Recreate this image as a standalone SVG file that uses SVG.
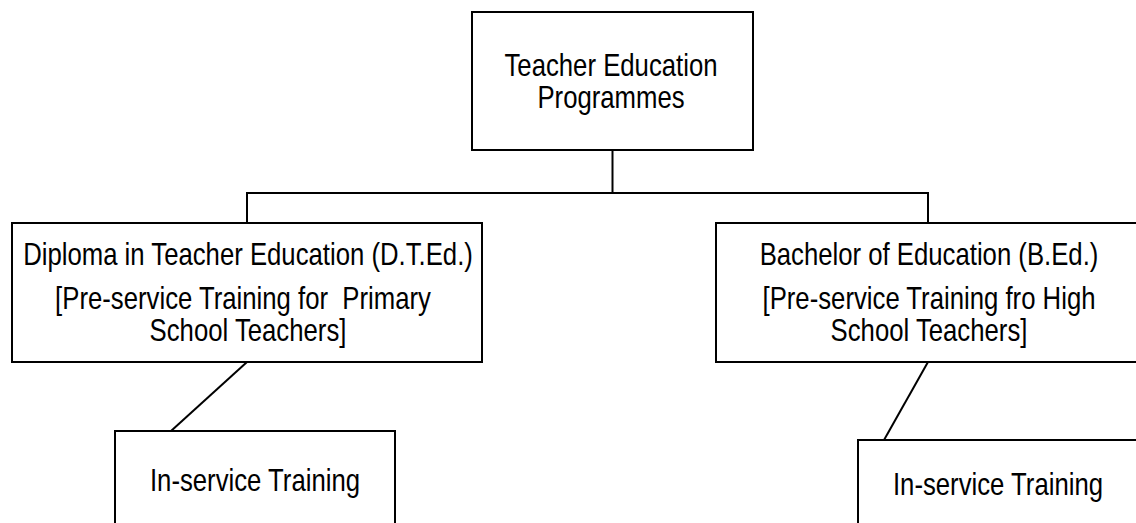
<svg xmlns="http://www.w3.org/2000/svg" width="1136" height="523" viewBox="0 0 1136 523">
  <style>
    .box { fill: #ffffff; stroke: #000000; stroke-width: 2; }
    .link { fill: none; stroke: #000000; stroke-width: 2; }
    .lbl { font-family: "Liberation Sans", Arial, sans-serif; font-size: 31px; text-anchor: middle; fill: #000000; }
  </style>
  <rect x="0" y="0" width="1136" height="523" fill="#ffffff"/>

  <!-- connectors -->
  <g id="connectors">
    <polyline class="link" points="612.5,150 612.5,193"/>
    <polyline class="link" points="247,223 247,193 928,193 928,223"/>
    <line class="link" x1="247" y1="362" x2="171" y2="431"/>
    <line class="link" x1="928" y1="362" x2="884" y2="440"/>
  </g>

  <!-- root -->
  <g id="node-programmes">
    <rect class="box" x="472" y="12" width="281" height="138"/>
    <g transform="translate(611 0) scale(0.83 1)">
      <text class="lbl" x="0" y="76">Teacher Education</text>
      <text class="lbl" x="0" y="108">Programmes</text>
    </g>
  </g>

  <!-- D.T.Ed. -->
  <g id="node-dted">
    <rect class="box" x="12" y="223" width="470" height="139"/>
    <g transform="translate(248 0) scale(0.83 1)">
      <text class="lbl" x="0" y="265">Diploma in Teacher Education (D.T.Ed.)</text>
      <text class="lbl" x="-6" y="309" xml:space="preserve">[Pre-service Training for  Primary</text>
      <text class="lbl" x="0" y="341">School Teachers]</text>
    </g>
  </g>

  <!-- B.Ed. -->
  <g id="node-bed">
    <rect class="box" x="716" y="223" width="424" height="139"/>
    <g transform="translate(929 0) scale(0.83 1)">
      <text class="lbl" x="0" y="265">Bachelor of Education (B.Ed.)</text>
      <text class="lbl" x="0" y="309">[Pre-service Training fro High</text>
      <text class="lbl" x="0" y="341">School Teachers]</text>
    </g>
  </g>

  <!-- in-service under D.T.Ed. -->
  <g id="node-inservice-dted">
    <rect class="box" x="115" y="431" width="280" height="110"/>
    <g transform="translate(255 0) scale(0.83 1)">
      <text class="lbl" x="0" y="491">In-service Training</text>
    </g>
  </g>

  <!-- in-service under B.Ed. -->
  <g id="node-inservice-bed">
    <rect class="box" x="858" y="440" width="282" height="100"/>
    <g transform="translate(998 0) scale(0.83 1)">
      <text class="lbl" x="0" y="495">In-service Training</text>
    </g>
  </g>
</svg>
